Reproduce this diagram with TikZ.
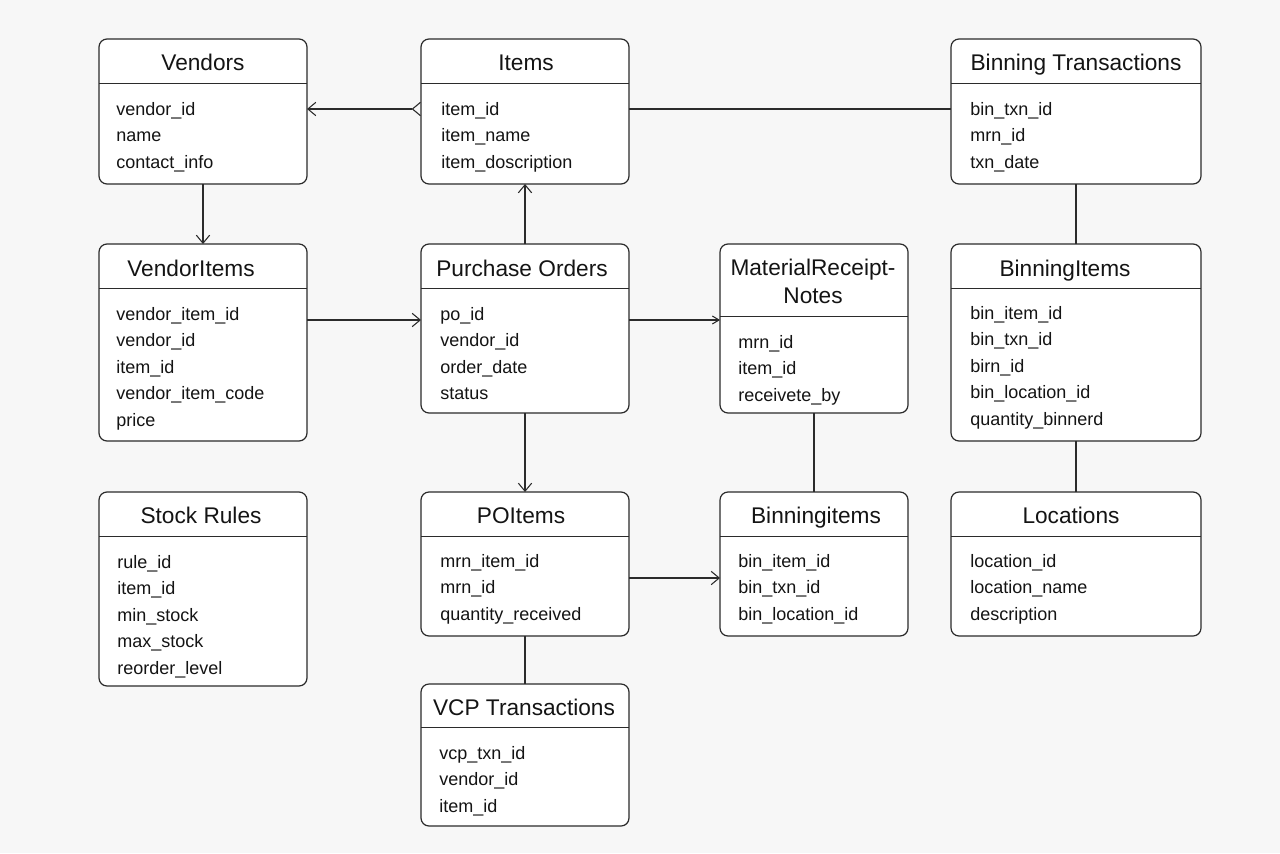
\documentclass[tikz,border=0pt]{standalone}
\usepackage{fontspec}
\setmainfont{Liberation Sans}
\usetikzlibrary{arrows.meta,fit}
\definecolor{bg}{HTML}{F7F7F7}
\definecolor{ink}{HTML}{141414}
\definecolor{edge}{HTML}{2B2B2B}
\tikzset{
  ent/.style={draw=edge, line width=0.9pt, fill=white, rounded corners=6pt, inner sep=0pt, outer sep=0pt},
  sepline/.style={draw=edge, line width=0.7pt},
  ttl/.style={font=\fontsize{17}{21}\selectfont, text=ink, inner sep=0pt, text height=12pt, text depth=0pt},
  att/.style={font=\fontsize{13.5}{16}\selectfont, text=ink, inner sep=0pt, anchor=west, text height=12pt, text depth=0pt},
  conn/.style={draw=edge, line width=0.8pt},
  tip/.style={-{Straight Barb[length=6pt,width=10pt]}},
  smalltip/.style={-{Straight Barb[length=5pt,width=6pt]}},
  crowtip/.style={{Straight Barb[reversed,length=6pt,width=10pt]}-{Straight Barb[length=6pt,width=10pt]}}
}
\newcommand\ent[6]{%
  \path (#2,#3) coordinate (#1-nw) (#4,#5) coordinate (#1-se);
  \node[ent, fit=(#1-nw)(#1-se)] (#1) {};
  \draw[sepline] (#2,#6) -- (#4,#6);}
\newcommand\attrs[4]{%
  \foreach \t [count=\i] in {#4} {\node[att] (#1-a\i) at (#2,{#3+(\i-1)*26.5}) {\t};}}
\begin{document}
\begin{tikzpicture}[x=0.75pt,y=-0.75pt]
\fill[bg] (0,0) rectangle (1280,853);
\useasboundingbox (0,0) rectangle (1280,853);

% Entities
\ent{ven}{99}{39}{307}{184}{83}
\node[ttl] (ven-t) at (203,62) {Vendors};
\attrs{ven}{116}{107}{vendor\_id,name,contact\_info}

\ent{itm}{421}{39}{629}{184}{83}
\node[ttl] (itm-t) at (526,62) {Items};
\attrs{itm}{441}{107}{item\_id,item\_name,item\_doscription}

\ent{btx}{951}{39}{1201}{184}{83}
\node[ttl] (btx-t) at (1076,62) {Binning Transactions};
\attrs{btx}{970}{107}{bin\_txn\_id,mrn\_id,txn\_date}

\ent{vit}{99}{244}{307}{441}{288}
\node[ttl] (vit-t) at (191,268) {VendorItems};
\attrs{vit}{116}{312}{vendor\_item\_id,vendor\_id,item\_id,vendor\_item\_code,price}

\ent{po}{421}{244}{629}{413}{288}
\node[ttl] (po-t) at (522,268) {Purchase Orders};
\attrs{po}{440}{312}{po\_id,vendor\_id,order\_date,status}

\ent{mrn}{720}{244}{908}{413}{316}
\node[ttl] (mrn-t1) at (813,267) {MaterialReceipt-};
\node[ttl] (mrn-t2) at (813,295) {Notes};
\attrs{mrn}{738}{340}{mrn\_id,item\_id,receivete\_by}

\ent{bit}{951}{244}{1201}{441}{288}
\node[ttl] (bit-t) at (1065,268) {BinningItems};
\attrs{bit}{970}{311}{bin\_item\_id,bin\_txn\_id,birn\_id,bin\_location\_id,quantity\_binnerd}

\ent{srl}{99}{492}{307}{686}{536}
\node[ttl] (srl-t) at (201,515) {Stock Rules};
\attrs{srl}{117}{560}{rule\_id,item\_id,min\_stock,max\_stock,reorder\_level}

\ent{poi}{421}{492}{629}{636}{536}
\node[ttl] (poi-t) at (521,515) {POItems};
\attrs{poi}{440}{559}{mrn\_item\_id,mrn\_id,quantity\_received}

\ent{bim}{720}{492}{908}{636}{536}
\node[ttl] (bim-t) at (816,515) {Binningitems};
\attrs{bim}{738}{559}{bin\_item\_id,bin\_txn\_id,bin\_location\_id}

\ent{loc}{951}{492}{1201}{636}{536}
\node[ttl] (loc-t) at (1071,515) {Locations};
\attrs{loc}{970}{559}{location\_id,location\_name,description}

\ent{vcp}{421}{684}{629}{826}{727}
\node[ttl] (vcp-t) at (524,707) {VCP Transactions};
\attrs{vcp}{439}{751}{vcp\_txn\_id,vendor\_id,item\_id}

% Connectors
\draw[conn, crowtip] (itm.west |- 0,109) -- (ven.east |- 0,109);
\draw[conn] (itm.east |- 0,109) -- (btx.west |- 0,109);
\draw[conn, tip] (ven.south) -- (vit.north);
\draw[conn, tip] (vit.east |- 0,320) -- (po.west |- 0,320);
\draw[conn, tip] (po.north) -- (itm.south);
\draw[conn, smalltip] (po.east |- 0,320) -- (mrn.west |- 0,320);
\draw[conn, tip] (po.south) -- (poi.north);
\draw[conn] (mrn.south) -- (bim.north);
\draw[conn, tip] (poi.east |- 0,578) -- (bim.west |- 0,578);
\draw[conn] (poi.south) -- (vcp.north);
\draw[conn] (btx.south) -- (bit.north);
\draw[conn] (bit.south) -- (loc.north);
\end{tikzpicture}
\end{document}
